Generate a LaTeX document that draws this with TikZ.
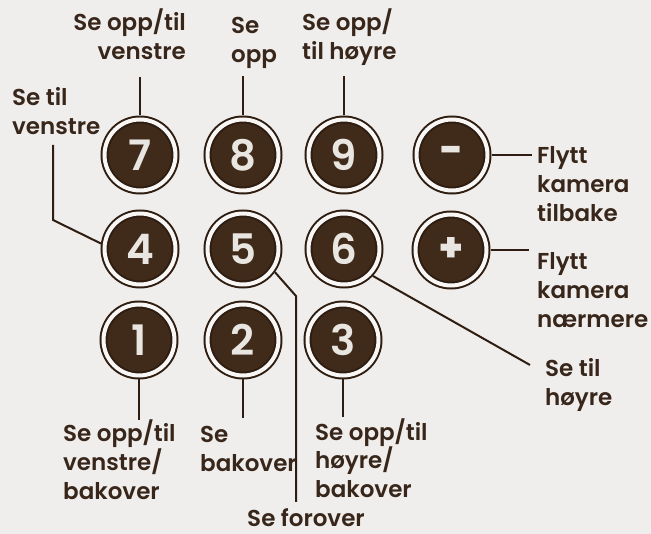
\documentclass[tikz,border=0pt]{standalone}
\usepackage{fontspec}
\setmainfont{Poppins}[BoldFont={Poppins SemiBold}]
\newfontfamily\signfont{Poppins ExtraBold}
\definecolor{paper}{HTML}{EFEEEC}
\definecolor{ringgap}{HTML}{F8F7F5}
\definecolor{keyfill}{HTML}{402B1B}
\definecolor{keyline}{HTML}{2E1D10}
\definecolor{ink}{HTML}{38261A}
\definecolor{digit}{HTML}{E9E6E2}
\begin{document}
\begin{tikzpicture}[x=1pt,y=-1pt,
  key/.style={circle, minimum size=71pt, inner sep=0pt, outer sep=4pt,
    fill=keyfill, draw=keyline, line width=2pt, double=ringgap, double distance=4pt,
    text=digit, font=\fontsize{42}{42}\selectfont\bfseries},
  signkey/.style={key, font=\fontsize{40}{40}\selectfont\signfont},
  lbl/.style={inner sep=0pt, text=ink, font=\fontsize{23}{29}\selectfont\bfseries},
  wire/.style={draw=keyline, line width=2pt}]
\useasboundingbox (0,0) rectangle (651,534);
\fill[paper] (0,0) rectangle (651,534);

% keypad
\node[key] (k7) at (140,155) {7};
\node[key] (k8) at (243,155) {8};
\node[key] (k9) at (344,155) {9};
\node[signkey] (kminus) at (452,155) {-};
\node[key] (k4) at (140,249) {4};
\node[key] (k5) at (243,249) {5};
\node[key] (k6) at (344,249) {6};
\node[signkey] (kplus) at (451,250) {+};
\node[key] (k1) at (139,340) {1};
\node[key] (k2) at (243,340) {2};
\node[key] (k3) at (343,340) {3};

% leader ends
\coordinate (e7) at (140,77);
\coordinate (e8) at (243,76);
\coordinate (e9) at (344,76);
\coordinate (e4a) at (53,220);
\coordinate (e4b) at (53,145);
\coordinate (eminus) at (532,155);
\coordinate (eplus) at (529,250);
\coordinate (e6) at (530,365);
\coordinate (e5a) at (296,296);
\coordinate (e5b) at (296,502);
\coordinate (e1) at (139,420);
\coordinate (e2) at (243,418);
\coordinate (e3) at (343,417);

% leaders
\draw[wire] (k7.north) -- (e7);
\draw[wire] (k8.north) -- (e8);
\draw[wire] (k9.north) -- (e9);
\draw[wire] (k4.172) -- (e4a) -- (e4b);
\draw[wire] (kminus.east) -- (eminus);
\draw[wire] (kplus.east) -- (eplus);
\draw[wire] (k6.-43) -- (e6);
\draw[wire] (k5.-36) -- (e5a) -- (e5b);
\draw[wire] (k1.south) -- (e1);
\draw[wire] (k2.south) -- (e2);
\draw[wire] (k3.south) -- (e3);

% labels (anchored at the baseline of their last line)
\node[lbl, anchor=base east, align=right] (a7) at (186,60) {Se opp/til\\venstre};
\node[lbl, anchor=base west, align=left] (a8) at (231,63) {Se\\opp};
\node[lbl, anchor=base west, align=left] (a9) at (302,60) {Se opp/\\til høyre};
\node[lbl, anchor=base west, align=left] (a4) at (12,135) {Se til\\venstre};
\node[lbl, anchor=base west, align=left] (aminus) at (537,222) {Flytt\\kamera\\tilbake};
\node[lbl, anchor=base west, align=left] (aplus) at (537,328) {Flytt\\kamera\\nærmere};
\node[lbl, anchor=base west, align=left] (a6) at (545,406) {Se til\\høyre};
\node[lbl, anchor=base west, align=left] (a1) at (63,500) {Se opp/til\\venstre/\\bakover};
\node[lbl, anchor=base west, align=left] (a2) at (200,472) {Se\\bakover};
\node[lbl, anchor=base west, align=left] (a3) at (315,498) {Se opp/til\\høyre/\\bakover};
\node[lbl, anchor=base] (a5) at (306,526) {Se forover};
\end{tikzpicture}
\end{document}
